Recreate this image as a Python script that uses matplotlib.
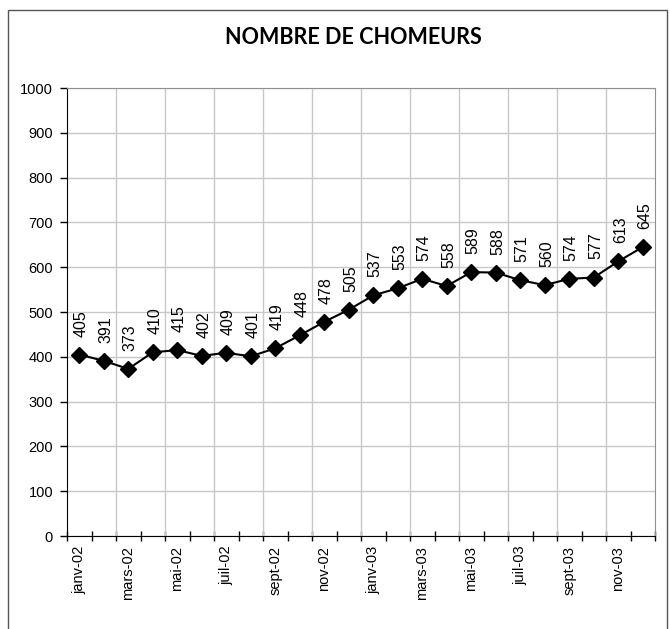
import matplotlib.pyplot as plt
import numpy as np
from matplotlib.patches import Rectangle

# nombre de chomeurs par mois, janv-02 a dec-03
mois = ["janv-02", "févr-02", "mars-02", "avr-02", "mai-02", "juin-02",
        "juil-02", "août-02", "sept-02", "oct-02", "nov-02", "déc-02",
        "janv-03", "févr-03", "mars-03", "avr-03", "mai-03", "juin-03",
        "juil-03", "août-03", "sept-03", "oct-03", "nov-03", "déc-03"]
chomeurs = [405, 391, 373, 410, 415, 402, 409, 401, 419, 448, 478, 505,
            537, 553, 574, 558, 589, 588, 571, 560, 574, 577, 613, 645]
y_ticks = list(range(0, 1001, 100))

plt.rcParams['font.family'] = ['Liberation Sans', 'DejaVu Sans']

fig = plt.figure(figsize=(6.7, 6.29), dpi=100)
ax = fig.add_axes((67/670, 1 - 536/629, 588/670, 448/629))

x = np.arange(len(chomeurs))
ax.plot(x, chomeurs, color='black', lw=1.5, marker='D', ms=8.5, zorder=3)

for xi, v in zip(x, chomeurs):
    ax.annotate(str(v), (xi, v), xytext=(1.5, 13), textcoords='offset points',
                rotation=90, ha='center', va='bottom', fontsize=11.5)

ax.set_xlim(-0.5, len(chomeurs) - 0.5)
ax.set_ylim(0, 1000)
ax.set_yticks(y_ticks)
ax.tick_params(axis='y', direction='out', length=5, width=1, labelsize=10.5, pad=5)

# etiquettes un mois sur deux, graduations secondaires entre chaque mois
ax.set_xticks(x[::2])
ax.set_xticklabels(mois[::2], rotation=90, fontsize=10.5)
ax.set_xticks(np.arange(-0.5, len(chomeurs)), minor=True)
ax.tick_params(axis='x', which='major', length=0, pad=7)
ax.tick_params(axis='x', which='minor', direction='inout', length=7, width=1)

ax.yaxis.grid(True, color='#c8c8c8', lw=1)
for b in np.arange(1.5, len(chomeurs) - 1, 2):
    ax.axvline(b, color='#c8c8c8', lw=1, zorder=1)
ax.set_axisbelow(True)

for s in ('top', 'right'):
    ax.spines[s].set_color('#909090')
for s in ('left', 'bottom'):
    ax.spines[s].set_color('black')

fig.text(353/670, 1 - 38/629, "NOMBRE DE CHOMEURS", ha='center', va='center',
         fontsize=15.5, fontweight='bold', family=['Lato', 'DejaVu Sans'])

fig.patches.append(Rectangle((8/670, -0.01), 659/670, 1 - 10/629 + 0.01,
                             transform=fig.transFigure, fill=False,
                             edgecolor='#555555', lw=1))

fig.savefig('out.png', dpi=100)
